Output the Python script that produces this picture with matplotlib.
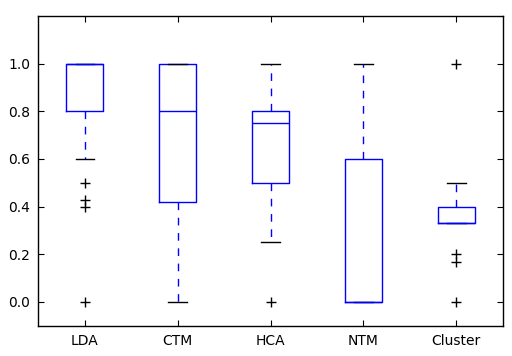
import matplotlib
matplotlib.use("Agg")
import matplotlib.pyplot as plt

# box statistics
labels = ["LDA", "CTM", "HCA", "NTM", "Cluster"]
q1 = [0.8, 0.42, 0.5, 0.0, 0.333]
med = [1.0, 0.8, 0.75, 0.0, 0.333]
q3 = [1.0, 1.0, 0.8, 0.6, 0.4]
whislo = [0.6, 0.0, 0.25, 0.0, 0.333]
whishi = [1.0, 1.0, 1.0, 1.0, 0.5]
fliers = [
    [0.5, 0.429, 0.4, 0.0],
    [],
    [0.0],
    [],
    [1.0, 0.2, 0.167, 0.0],
]

stats = []
for i, lab in enumerate(labels):
    stats.append(dict(label=lab, q1=q1[i], med=med[i], q3=q3[i],
                      whislo=whislo[i], whishi=whishi[i], fliers=fliers[i]))

fig = plt.figure(figsize=(5.12, 3.56), dpi=100)
ax = fig.add_axes([0.075, 0.085, 0.907, 0.87])

ax.bxp(stats, widths=0.4, capwidths=0.2,
       boxprops=dict(color="blue", linewidth=1.0),
       medianprops=dict(color="blue", linewidth=1.0),
       whiskerprops=dict(color="blue", linestyle=(0, (5.5, 5.5)), linewidth=1.0),
       capprops=dict(color="black", linewidth=1.0),
       flierprops=dict(marker="+", markeredgecolor="black",
                       markersize=6.5, linestyle="none"))

ax.set_xlim(0.5, 5.5)
ax.set_ylim(-0.1, 1.2)
ax.set_yticks([0.0, 0.2, 0.4, 0.6, 0.8, 1.0])
ax.tick_params(direction="in", top=True, right=True, labelsize=10,
               length=4, pad=6)
for s in ax.spines.values():
    s.set_linewidth(1.0)

fig.savefig("out.png", dpi=100)
